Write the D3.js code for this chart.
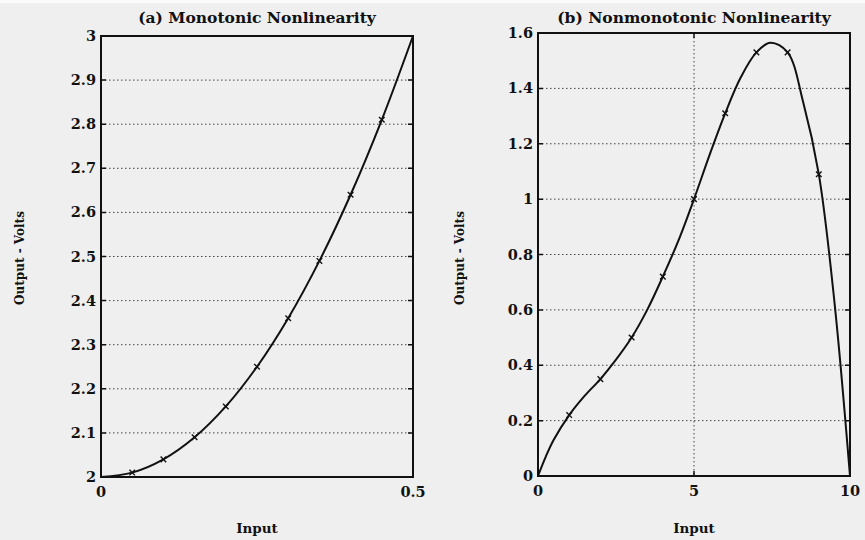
<!DOCTYPE html>
<html>
<head>
<meta charset="utf-8">
<script src="https://cdn.jsdelivr.net/npm/d3@7"></script>
<style>
  body { margin: 0; background: #efefef; }
  text { font-family: "DejaVu Serif", "Liberation Serif", serif; fill: #111; }
</style>
</head>
<body>
<div id="chart-wrapper"></div>
<script>
//////////////////// Constants ////////////////////
const width = 865;
const height = 540;
const ink = "#111";

//////////////////// Data ////////////////////
// (a) monotonic nonlinearity
const inputA  = [0, 0.05, 0.1, 0.15, 0.2, 0.25, 0.3, 0.35, 0.4, 0.45, 0.5];
const outputA = [2, 2.01, 2.04, 2.09, 2.16, 2.25, 2.36, 2.49, 2.64, 2.81, 3.0];
const markersA = [0.05, 0.1, 0.15, 0.2, 0.25, 0.3, 0.35, 0.4, 0.45];
const yTicksA = [2, 2.1, 2.2, 2.3, 2.4, 2.5, 2.6, 2.7, 2.8, 2.9, 3];
const xTicksA = [0, 0.5];

// (b) nonmonotonic nonlinearity
const inputB  = [0, 0.25, 0.5, 1, 1.5, 2, 2.5, 3, 3.5, 4, 4.5, 5, 5.5, 6, 6.5, 7, 7.45, 8, 8.5, 9, 9.5, 10];
const outputB = [0, 0.07, 0.13, 0.22, 0.29, 0.35, 0.42, 0.5, 0.6, 0.72, 0.85, 1.0, 1.16, 1.31, 1.44, 1.53, 1.565, 1.53, 1.35, 1.09, 0.63, 0];
const markersB = [1, 2, 3, 4, 5, 6, 7, 8, 9];
const yTicksB = [0, 0.2, 0.4, 0.6, 0.8, 1, 1.2, 1.4, 1.6];
const xTicksB = [0, 5, 10];

const panels = [
  {title: "(a) Monotonic Nonlinearity", xs: inputA, ys: outputA, marks: markersA,
   xDomain: [0, 0.5], yDomain: [2, 3], yTicks: yTicksA, xTicks: xTicksA, xGrid: [],
   box: {left: 101, right: 413, top: 36, bottom: 477}, yLabelX: 24},
  {title: "(b) Nonmonotonic Nonlinearity", xs: inputB, ys: outputB, marks: markersB,
   xDomain: [0, 10], yDomain: [0, 1.6], yTicks: yTicksB, xTicks: xTicksB, xGrid: [5],
   box: {left: 538, right: 850, top: 33, bottom: 476}, yLabelX: 464}
];

const svg = d3.select("#chart-wrapper")
  .append("svg")
    .attr("width", width)
    .attr("height", height)

svg.append("rect").attr("width", width).attr("height", 3).attr("fill", "#fafafa")

panels.forEach(p => {
  const b = p.box;
  const g = svg.append("g")
  const xScale = d3.scaleLinear().domain(p.xDomain).range([b.left, b.right])
  const yScale = d3.scaleLinear().domain(p.yDomain).range([b.bottom, b.top])

  // dotted grid
  g.selectAll(".hgrid")
    .data(p.yTicks.slice(1, -1))
    .join("line")
      .attr("x1", b.left).attr("x2", b.right)
      .attr("y1", d => yScale(d)).attr("y2", d => yScale(d))
      .attr("stroke", "#444")
      .attr("stroke-width", 1)
      .attr("stroke-dasharray", "1.5,2.5")
  g.selectAll(".vgrid")
    .data(p.xGrid)
    .join("line")
      .attr("x1", d => xScale(d)).attr("x2", d => xScale(d))
      .attr("y1", b.top).attr("y2", b.bottom)
      .attr("stroke", "#444")
      .attr("stroke-width", 1)
      .attr("stroke-dasharray", "1.5,2.5")

  // inward ticks on left and right edges
  const tk = 5;
  g.selectAll(".ytick")
    .data(p.yTicks)
    .join("path")
      .attr("d", d => `M${b.left},${yScale(d)}h${tk}M${b.right},${yScale(d)}h${-tk}`)
      .attr("stroke", ink).attr("stroke-width", 1.5)
  g.selectAll(".xtick")
    .data(p.xTicks)
    .join("path")
      .attr("d", d => `M${xScale(d)},${b.bottom}v${-tk}M${xScale(d)},${b.top}v${tk}`)
      .attr("stroke", ink).attr("stroke-width", 1.5)

  // frame
  g.append("rect")
    .attr("x", b.left).attr("y", b.top)
    .attr("width", b.right - b.left).attr("height", b.bottom - b.top)
    .attr("fill", "none")
    .attr("stroke", ink)
    .attr("stroke-width", 2)

  // tick labels
  g.selectAll(".ylab")
    .data(p.yTicks)
    .join("text")
      .attr("x", b.left - 5)
      .attr("y", d => yScale(d) + 5)
      .attr("text-anchor", "end")
      .attr("font-size", 14.5)
      .attr("font-weight", "bold")
      .text(d => d3.format("")(d))
  g.selectAll(".xlab")
    .data(p.xTicks)
    .join("text")
      .attr("x", d => xScale(d))
      .attr("y", b.bottom + 20)
      .attr("text-anchor", "middle")
      .attr("font-size", 14.5)
      .attr("font-weight", "bold")
      .text(d => d3.format("")(d))

  // curve
  const pts = p.xs.map((x, i) => [x, p.ys[i]]);
  const line = d3.line(d => xScale(d[0]), d => yScale(d[1])).curve(d3.curveCatmullRom.alpha(0.5))
  g.append("path")
    .datum(pts)
    .attr("fill", "none")
    .attr("stroke", ink)
    .attr("stroke-width", 2)
    .attr("stroke-linejoin", "round")
    .attr("d", line)

  // markers
  g.selectAll(".mark")
    .data(p.marks.map(x => pts.find(d => d[0] === x)))
    .join("path")
      .attr("transform", d => `translate(${xScale(d[0])},${yScale(d[1])})`)
      .attr("d", d3.symbol(d3.symbolTimes, 22))
      .attr("fill", "none")
      .attr("stroke", ink)
      .attr("stroke-width", 1.4)

  // titles and axis labels
  const cx = (b.left + b.right) / 2;
  g.append("text")
    .attr("x", cx).attr("y", 23)
    .attr("text-anchor", "middle")
    .attr("font-size", 15.5)
    .attr("font-weight", "bold")
    .text(p.title)
  g.append("text")
    .attr("x", cx).attr("y", 533)
    .attr("text-anchor", "middle")
    .attr("font-size", 13.5)
    .attr("font-weight", "bold")
    .text("Input")
  g.append("text")
    .attr("transform", `translate(${p.yLabelX},258)rotate(-90)`)
    .attr("text-anchor", "middle")
    .attr("font-size", 12)
    .attr("font-weight", "bold")
    .text("Output - Volts")
})
</script>
</body>
</html>
